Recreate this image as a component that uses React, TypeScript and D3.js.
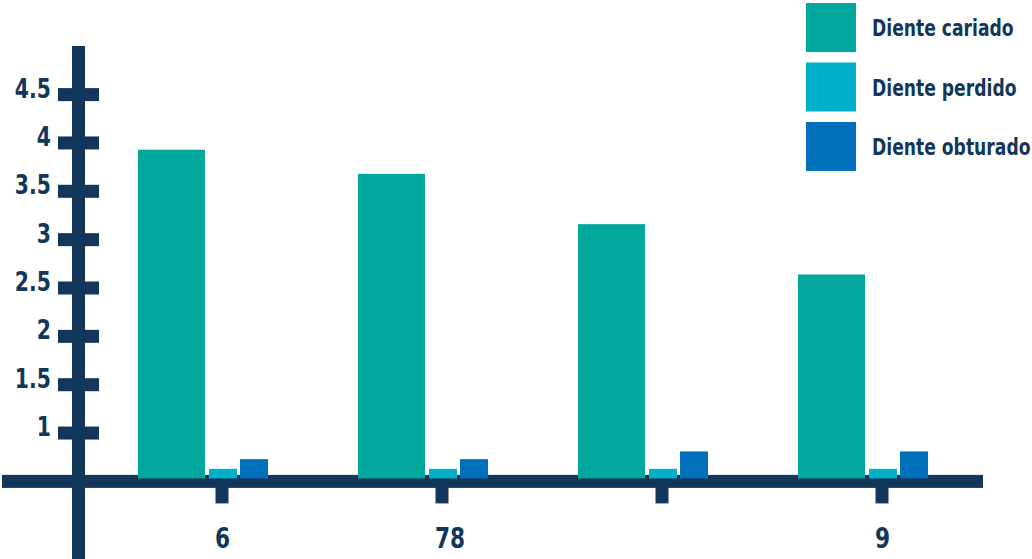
import React from 'react';
import * as d3 from 'd3';

// Chart data
const categories = ['6', '78', '', '9'];
const cariado = [3.93, 3.68, 3.16, 2.64];
const perdido = [0.63, 0.63, 0.63, 0.63];
const obturado = [0.73, 0.73, 0.81, 0.81];
const yTicks = [1, 1.5, 2, 2.5, 3, 3.5, 4, 4.5];
const yTickLabels = ['1', '1.5', '2', '2.5', '3', '3.5', '4', '4.5'];
const seriesNames = ['Diente cariado', 'Diente perdido', 'Diente obturado'];
const seriesColors = ['#02A89E', '#00AFC8', '#0070BB'];

const W = 1032;
const H = 559;
const NAVY = '#13375A';
const FONT = "'DejaVu Sans Condensed', 'DejaVu Sans', sans-serif";
const AXIS_W = 13;

// bar slots relative to the category tick: [left offset, width]
const slots: [number, number][] = [
  [-84, 67],
  [-13, 28],
  [18, 28],
];

// Bold text squeezed horizontally to a condensed look
function Label(props: {
  x: number;
  y: number;
  size: number;
  squeeze: number;
  anchor?: 'start' | 'middle' | 'end';
  children: React.ReactNode;
}) {
  const { x, y, size, squeeze, anchor = 'start', children } = props;
  return (
    <g transform={`translate(${x},${y}) scale(${squeeze},1)`}>
      <text
        x={0}
        y={0}
        textAnchor={anchor}
        fontFamily={FONT}
        fontWeight="bold"
        fontSize={size}
        fill={NAVY}
      >
        {children}
      </text>
    </g>
  );
}

export default function App() {
  const y = d3.scaleLinear().domain([0.5, 4.5]).range([481.4, 94.6]);
  const x = d3
    .scalePoint<string>()
    .domain(categories.map((_, i) => `${i}`))
    .range([222, 882]);
  const axisY = y(0.5);
  const axisX = 78.5;
  const barBase = axisY - 3;
  const series = [cariado, perdido, obturado];

  return (
    <div style={{ position: 'fixed', left: 0, top: 0, width: W, height: H, background: '#fff' }}>
      <svg width={W} height={H} style={{ display: 'block' }}>
        {/* vertical axis */}
        <rect x={axisX - AXIS_W / 2} y={46} width={AXIS_W} height={H - 46} fill={NAVY} />
        {/* horizontal axis */}
        <rect x={2} y={axisY - AXIS_W / 2} width={981} height={AXIS_W} fill={NAVY} />
        {/* y ticks and labels */}
        {yTicks.map((t, i) => (
          <g key={`yt${i}`}>
            <rect x={58} y={y(t) - AXIS_W / 2} width={41} height={AXIS_W} fill={NAVY} />
            <Label x={51} y={y(t) + 3} size={27} squeeze={0.84} anchor="end">
              {yTickLabels[i]}
            </Label>
          </g>
        ))}
        {/* x ticks and labels */}
        {categories.map((c, i) => {
          const cx = x(`${i}`) as number;
          return (
            <g key={`xt${i}`}>
              <rect x={cx - AXIS_W / 2} y={axisY} width={AXIS_W} height={22} fill={NAVY} />
              <Label x={cx - 7} y={548} size={28} squeeze={0.86}>
                {c}
              </Label>
            </g>
          );
        })}
        {/* bars */}
        {series.map((vals, s) =>
          vals.map((v, i) => {
            const cx = x(`${i}`) as number;
            const top = y(v);
            return (
              <rect
                key={`b${s}-${i}`}
                x={cx + slots[s][0]}
                y={top}
                width={slots[s][1]}
                height={barBase - top}
                fill={seriesColors[s]}
              />
            );
          })
        )}
        {/* legend */}
        {seriesNames.map((name, s) => {
          const top = 3 + s * 59.5;
          return (
            <g key={`lg${s}`}>
              <rect x={806} y={top} width={50} height={49} fill={seriesColors[s]} />
              <Label x={872} y={top + 33} size={23} squeeze={0.83}>
                {name}
              </Label>
            </g>
          );
        })}
      </svg>
    </div>
  );
}
